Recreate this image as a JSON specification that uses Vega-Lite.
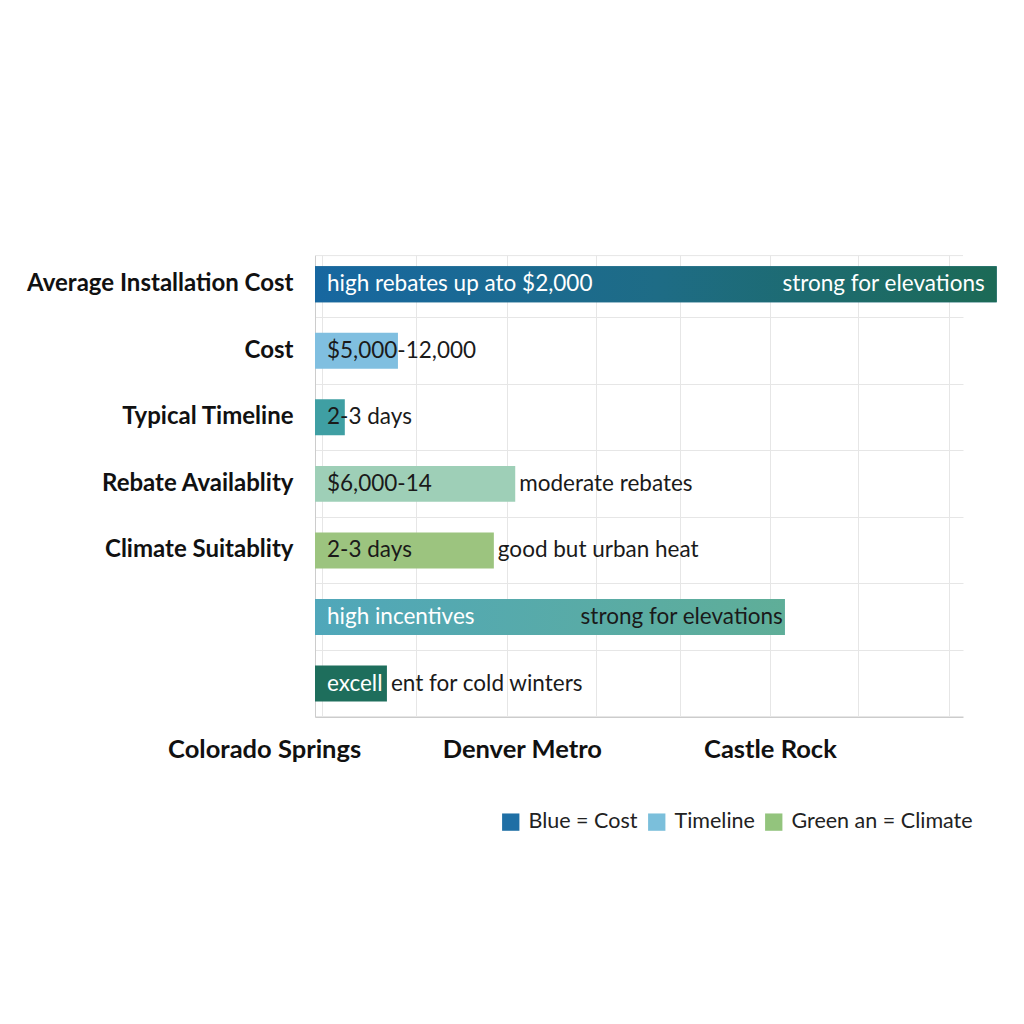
{
  "$schema": "https://vega.github.io/schema/vega-lite/v6.json",
  "width": 648,
  "height": 462,
  "autosize": "none",
  "padding": {"left": 315, "top": 255, "right": 61, "bottom": 307},
  "background": "#ffffff",
  "config": {"font": "Lato", "view": {"stroke": null}},
  "datasets": {
    "rows": [
      {"metric": "Average Installation Cost", "value": 105.2, "lw": "high rebates up ato $2,000", "rw": "strong for elevations"},
      {"metric": "Cost", "value": 12.8, "ld": "$5,000-12,000"},
      {"metric": "Typical Timeline", "value": 4.6, "ld": "2-3 days"},
      {"metric": "Rebate Availablity", "value": 30.9, "ld": "$6,000-14", "after": "moderate rebates"},
      {"metric": "Climate Suitablity", "value": 27.6, "ld": "2-3 days", "after": "good but urban heat"},
      {"metric": " ", "value": 72.5, "lw": "high incentives", "rd": "strong for elevations"},
      {"metric": "  ", "value": 11.1, "lw": "excell", "after": "ent for cold winters"}
    ],
    "legend": [
      {"key": "Blue = Cost"},
      {"key": "Timeline"},
      {"key": "Green an = Climate"}
    ]
  },
  "layer": [
    {
      "data": {"name": "rows"},
      "mark": {"type": "bar", "clip": false},
      "encoding": {
        "y": {
          "field": "metric", "type": "nominal", "sort": null, "title": null,
          "scale": {
            "domain": ["Average Installation Cost", "Cost", "Typical Timeline", "Rebate Availablity", "Climate Suitablity", " ", "  "],
            "paddingInner": 0.46, "paddingOuter": 0.2, "align": 0.42
          },
          "axis": {
            "bandPosition": 1.426, "labelOffset": 0, "ticks": false,
            "grid": true, "gridColor": "#e6e6e6",
            "domainColor": "#cccccc", "labelFontSize": 24, "labelFontWeight": "bold",
            "labelColor": "#111111", "labelPadding": 22, "labelLimit": 400
          }
        },
        "x": {
          "field": "value", "type": "quantitative", "title": null,
          "scale": {"domain": [0, 100], "nice": false, "zero": true},
          "axis": {
            "values": [1.1, 15.6, 29.6, 43.4, 56.3, 70.2, 83.8, 97.8],
            "labelExpr": "datum.value == 1.1 ? 'Colorado Springs' : datum.value == 29.6 ? 'Denver Metro' : datum.value == 70.2 ? 'Castle Rock' : ''",
            "ticks": false, "grid": true, "gridColor": "#e6e6e6", "domainColor": "#cccccc",
            "labelFontSize": 25.5, "labelFontWeight": "bold", "labelColor": "#111111", "labelLimit": 400,
            "labelPadding": 20, "labelFlush": false, "labelOverlap": false, "labelBound": false,
            "labelOffset": {"condition": [{"test": "datum.value == 1.1", "value": -58}, {"test": "datum.value == 29.6", "value": 15}], "value": 0}
          }
        },
        "color": {
          "field": "metric", "type": "nominal", "legend": null,
          "scale": {
            "domain": ["Average Installation Cost", "Cost", "Typical Timeline", "Rebate Availablity", "Climate Suitablity", " ", "  "],
            "range": ["#1b6a8c", "#80bfe0", "#3f9fa3", "#9ecfb7", "#9cc47f", "#54a9ad", "#1e6e5c"]
          }
        }
      }
    },
    {
      "data": {"name": "rows"},
      "transform": [{"filter": "datum.metric == 'Average Installation Cost'"}],
      "mark": {"type": "rule", "color": "#e6e6e6", "yOffset": -10.6},
      "encoding": {
        "y": {"field": "metric", "type": "nominal", "sort": null, "title": null, "bandPosition": 0},
        "x": {"datum": 0, "type": "quantitative", "title": null},
        "x2": {"datum": 100}
      }
    },
    {
      "data": {"name": "rows"},
      "transform": [{"filter": "datum.metric == 'Average Installation Cost'"}],
      "mark": {
        "type": "bar", "clip": false,
        "color": {"gradient": "linear", "x1": 0, "x2": 1, "y1": 0, "y2": 0,
          "stops": [{"offset": 0, "color": "#1767a0"}, {"offset": 0.5, "color": "#1e6c86"}, {"offset": 1, "color": "#1c6a56"}]}
      },
      "encoding": {
        "y": {"field": "metric", "type": "nominal", "sort": null, "title": null},
        "x": {"field": "value", "type": "quantitative", "title": null}
      }
    },
    {
      "data": {"name": "rows"},
      "transform": [{"filter": "datum.metric == ' '"}],
      "mark": {
        "type": "bar",
        "color": {"gradient": "linear", "x1": 0, "x2": 1, "y1": 0, "y2": 0,
          "stops": [{"offset": 0, "color": "#50a7ba"}, {"offset": 1, "color": "#5fae98"}]}
      },
      "encoding": {
        "y": {"field": "metric", "type": "nominal", "sort": null, "title": null},
        "x": {"field": "value", "type": "quantitative", "title": null}
      }
    },
    {
      "data": {"name": "rows"},
      "transform": [{"filter": "datum.lw"}],
      "mark": {"type": "text", "align": "left", "baseline": "middle", "dx": 12, "fontSize": 22.5, "color": "#ffffff"},
      "encoding": {
        "y": {"field": "metric", "type": "nominal", "sort": null, "title": null},
        "x": {"datum": 0, "type": "quantitative", "title": null},
        "text": {"field": "lw"}
      }
    },
    {
      "data": {"name": "rows"},
      "transform": [{"filter": "datum.ld"}],
      "mark": {"type": "text", "align": "left", "baseline": "middle", "dx": 12, "fontSize": 22.5, "color": "#1a1a1a"},
      "encoding": {
        "y": {"field": "metric", "type": "nominal", "sort": null, "title": null},
        "x": {"datum": 0, "type": "quantitative", "title": null},
        "text": {"field": "ld"}
      }
    },
    {
      "data": {"name": "rows"},
      "transform": [{"filter": "datum.after"}],
      "mark": {"type": "text", "align": "left", "baseline": "middle", "dx": 4, "fontSize": 22.5, "color": "#1a1a1a"},
      "encoding": {
        "y": {"field": "metric", "type": "nominal", "sort": null, "title": null},
        "x": {"field": "value", "type": "quantitative", "title": null},
        "text": {"field": "after"}
      }
    },
    {
      "data": {"name": "rows"},
      "transform": [{"filter": "datum.rw"}],
      "mark": {"type": "text", "align": "right", "baseline": "middle", "dx": -12, "fontSize": 22.5, "color": "#ffffff"},
      "encoding": {
        "y": {"field": "metric", "type": "nominal", "sort": null, "title": null},
        "x": {"field": "value", "type": "quantitative", "title": null},
        "text": {"field": "rw"}
      }
    },
    {
      "data": {"name": "rows"},
      "transform": [{"filter": "datum.rd"}],
      "mark": {"type": "text", "align": "right", "baseline": "middle", "dx": -2, "fontSize": 22.5, "color": "#1a1a1a"},
      "encoding": {
        "y": {"field": "metric", "type": "nominal", "sort": null, "title": null},
        "x": {"field": "value", "type": "quantitative", "title": null},
        "text": {"field": "rd"}
      }
    },
    {
      "data": {"name": "legend"},
      "mark": {"type": "square", "opacity": 0},
      "encoding": {
        "color": {
          "field": "key", "type": "nominal", "sort": null,
          "scale": {"domain": ["Blue = Cost", "Timeline", "Green an = Climate"], "range": ["#1f6fa5", "#7bbfdb", "#93c47d"]},
          "legend": {
            "title": null, "orient": "none", "direction": "horizontal", "legendX": 185, "legendY": 556,
            "symbolType": "square", "symbolSize": 300, "symbolOpacity": 1, "symbolStrokeWidth": 0,
            "labelFontSize": 21.5, "labelColor": "#222222", "labelOffset": 7, "columnPadding": 8,
            "labelLimit": 300, "padding": 0
          }
        }
      }
    }
  ],
  "resolve": {"scale": {"color": "independent"}}
}
